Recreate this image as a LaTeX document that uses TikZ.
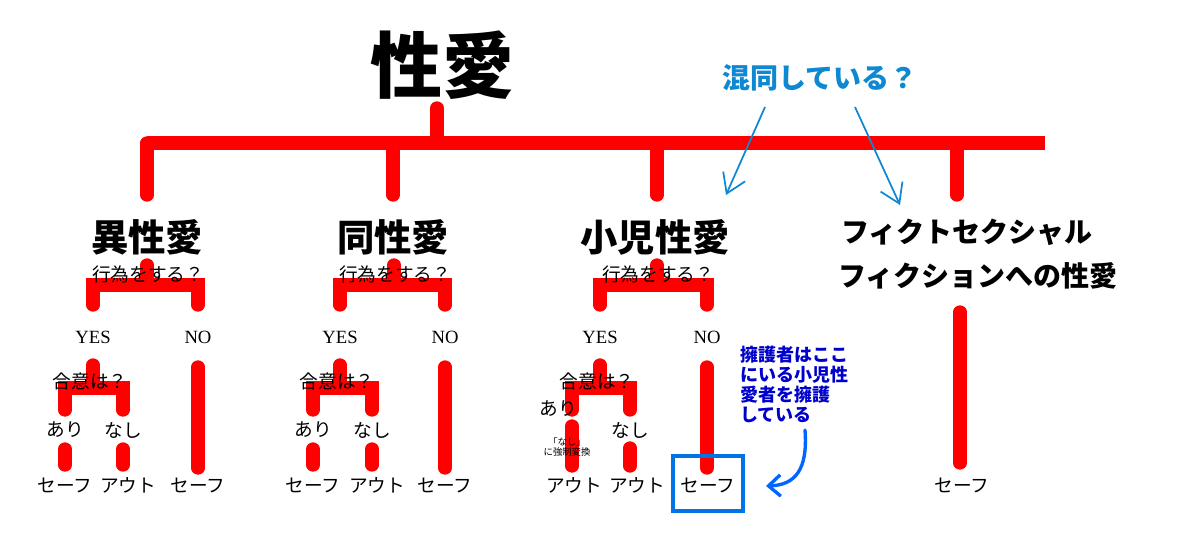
\documentclass[tikz,border=0pt]{standalone}
\usepackage{fontspec}
\setmainfont{Noto Sans CJK JP}
\newfontfamily\lat{Liberation Serif}
\usetikzlibrary{arrows.meta}
\tikzset{
 rl/.style={draw=red,line width=10pt,line cap=round},
 sm/.style={font=\fontsize{14}{15}\selectfont,inner sep=0pt},
 cat/.style={font=\fontsize{28}{30}\selectfont\bfseries,inner sep=0pt},
 ba/.style={draw=cyan!70!blue,line width=1.3pt,-{Straight Barb[length=14pt,width=18pt]}},
}
\begin{document}
\begin{tikzpicture}[x=0.75pt,y=-0.75pt]
\useasboundingbox (0,0) rectangle (1200,544);
\fill[white] (0,0) rectangle (1200,544);
\node[inner sep=0pt,font=\fontsize{54}{60}\selectfont\bfseries] (title) at (442,65) {性愛};
\draw[rl] (437,108) -- (437,143);
\draw[rl,line cap=butt] (147,143) -- (1045,143);
\foreach \x in {147,393,657,957} \draw[rl] (\x,143) -- (\x,195);
\node[cat] (c1) at (147,237) {異性愛};
\node[cat] (c2) at (393,237) {同性愛};
\node[cat] (c3) at (655,237) {小児性愛};
\node[inner sep=0pt,font=\fontsize{21}{24}\selectfont\bfseries] (c4a) at (967,232) {フィクトセクシャル};
\node[inner sep=0pt,font=\fontsize{21}{24}\selectfont\bfseries] (c4b) at (978,276) {フィクションへの性愛};
% generic subtrees
\foreach \d/\L/\R/\aL/\aR [count=\i] in {0/93/198/65/123, 247/340/445/313/372, 510/600/707/572/630}{
 \draw[rl] ({147+\d},265) -- ({147+\d},285);
 \draw[rl] (\L,305) -- (\L,285) -- (\R,285) -- (\R,305);
 \node[sm] (q\i) at ({148+\d},274) {行為をする？};
 \node[sm,font=\fontsize{14}{15}\selectfont\lat] (y\i) at (\L,337) {YES};
 \node[sm,font=\fontsize{14}{15}\selectfont\lat] (n\i) at (\R,337) {NO};
 \draw[rl] (\L,365) -- (\L,388);
 \draw[rl] (\aL,410) -- (\aL,388) -- (\aR,388) -- (\aR,410);
 \node[sm] (g\i) at ({\L-3},381) {合意は？};
 \draw[rl] (\R,367) -- (\R,468);
}
% first two
\foreach \aL/\aR/\R [count=\i] in {65/123/198, 313/372/445}{
 \node[sm] (a\i) at (\aL,430) {あり};
 \node[sm] (b\i) at (\aR,430) {なし};
 \draw[rl] (\aL,449) -- (\aL,465);
 \draw[rl] (\aR,449) -- (\aR,465);
 \node[sm] (s\i) at (\aL,485) {セーフ};
 \node[sm] (o\i) at ({\aR+5},485) {アウト};
 \node[sm] (t\i) at (\R,485) {セーフ};
}
% third
\node[sm] (a3) at (558,409) {あり};
\node[sm] (b3) at (630,430) {なし};
\draw[rl] (572,426) -- (572,466);
\draw[rl] (630,448) -- (630,466);
\node[inner sep=0pt,font=\fontsize{7}{8}\selectfont,align=center] (conv) at (567,447) {「なし」\\に強制変換};
\node[sm] (o3a) at (574,485) {アウト};
\node[sm] (o3b) at (637,485) {アウト};
\node[sm] (t3) at (708,485) {セーフ};
\draw[blue!50!cyan!90!black,line width=2.5pt] (673,456) rectangle (743,511);
\node[inner sep=0pt,font=\fontsize{13.5}{15}\selectfont\bfseries,text=blue!80!black,align=left,anchor=north west] (note) at (740,346) {擁護者はここ\\にいる小児性\\愛者を擁護\\している};
\draw[draw=blue!60!cyan,line width=2.5pt,line cap=round,-{Straight Barb[length=9pt,width=16pt]}] (805,430) .. controls (808,470) and (795,485) .. (766,486);
% fiction
\draw[rl] (960,312) -- (960,463);
\node[sm] (t4) at (962,485) {セーフ};
% confused
\node[inner sep=0pt,font=\fontsize{21}{24}\selectfont\bfseries,text=cyan!70!blue] (conf) at (820,78) {混同している？};
\draw[ba] (765,107) -- (726,195);
\draw[ba] (855,107) -- (900,205);
\end{tikzpicture}
\end{document}
